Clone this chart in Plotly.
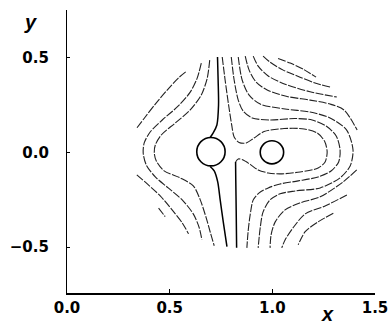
import plotly.graph_objects as go

stem_top_x = [0.733, 0.736, 0.738, 0.730, 0.712, 0.697]
stem_top_y = [0.502, 0.381, 0.249, 0.144, 0.102, 0.078]

stem_bot_x = [0.697, 0.717, 0.734, 0.746, 0.761, 0.779]
stem_bot_y = [-0.075, -0.098, -0.156, -0.251, -0.367, -0.498]

loop_x = [0.756, 0.770, 0.787, 0.802, 0.814, 0.838, 0.873, 0.911, 0.960, 1.057, 1.155,
          1.218, 1.254, 1.267, 1.257, 1.223, 1.135, 1.038, 0.980, 0.931, 0.892, 0.858,
          0.834, 0.821]
loop_y = [0.502, 0.381, 0.249, 0.144, 0.081, 0.052, 0.049, 0.075, 0.109, 0.125, 0.123,
          0.102, 0.059, 0.002, -0.051, -0.083, -0.104, -0.114, -0.109, -0.093, -0.064,
          -0.041, -0.035, -0.051]

vert_x = [0.821, 0.822, 0.824, 0.826]
vert_y = [-0.051, -0.146, -0.304, -0.504]

r1_x = [0.800, 0.814, 0.834, 0.858, 0.902, 0.989, 1.111, 1.194, 1.262, 1.311, 1.330,
        1.323, 1.286, 1.223, 1.126, 1.038, 0.980, 0.936, 0.907, 0.892, 0.882, 0.876]
r1_y = [0.502, 0.381, 0.275, 0.217, 0.181, 0.170, 0.178, 0.170, 0.138, 0.086, 0.012,
        -0.051, -0.099, -0.130, -0.151, -0.167, -0.188, -0.214, -0.251, -0.330, -0.419, -0.504]

r2_x = [0.834, 0.853, 0.887, 0.941, 1.062, 1.184, 1.281, 1.362, 1.393, 1.379, 1.330,
        1.233, 1.111, 1.038, 0.989, 0.955, 0.941, 0.931]
r2_y = [0.502, 0.381, 0.301, 0.254, 0.228, 0.212, 0.181, 0.117, 0.012, -0.072, -0.135,
        -0.188, -0.204, -0.219, -0.251, -0.314, -0.398, -0.504]

r3t_x = [0.868, 0.887, 0.921, 0.975, 1.072, 1.184, 1.281, 1.349, 1.413]
r3t_y = [0.507, 0.433, 0.370, 0.328, 0.294, 0.275, 0.254, 0.223, 0.117]
r3b_x = [1.411, 1.345, 1.233, 1.135, 1.062, 1.014, 0.994, 0.989]
r3b_y = [-0.093, -0.156, -0.235, -0.267, -0.304, -0.367, -0.435, -0.504]

r4t_x = [0.907, 0.931, 0.980, 1.062, 1.184, 1.314]
r4t_y = [0.507, 0.454, 0.402, 0.359, 0.319, 0.291]
r4b_x = [1.363, 1.257, 1.160, 1.101, 1.062, 1.046]
r4b_y = [-0.225, -0.283, -0.325, -0.398, -0.462, -0.504]

r5t_x = [0.955, 0.989, 1.053, 1.135, 1.208, 1.281]
r5t_y = [0.507, 0.475, 0.433, 0.396, 0.365, 0.344]
r5b_x = [1.297, 1.223, 1.160, 1.126]
r5b_y = [-0.321, -0.367, -0.419, -0.488]

r6t_x = [1.028, 1.087, 1.150, 1.213]
r6t_y = [0.494, 0.470, 0.438, 0.396]

la_x = [0.341, 0.381, 0.430, 0.488, 0.542, 0.584]
la_y = [0.129, 0.186, 0.254, 0.328, 0.391, 0.429]

lb_x = [0.340, 0.391, 0.454, 0.512, 0.561, 0.592]
lb_y = [-0.119, -0.167, -0.230, -0.304, -0.372, -0.430]

lc_x = [0.446, 0.478]
lc_y = [-0.295, -0.339]

outer_x = [0.654, 0.634, 0.600, 0.542, 0.464, 0.405, 0.376, 0.371, 0.386, 0.430, 0.493,
           0.561, 0.615, 0.644, 0.657]
outer_y = [0.470, 0.391, 0.317, 0.244, 0.170, 0.107, 0.049, -0.004, -0.067, -0.130,
           -0.188, -0.251, -0.325, -0.398, -0.462]

inner_x = [0.695, 0.683, 0.654, 0.600, 0.527, 0.459, 0.430, 0.425, 0.435, 0.473, 0.551,
           0.615, 0.649, 0.678, 0.697, 0.717]
inner_y = [0.486, 0.391, 0.302, 0.223, 0.154, 0.091, 0.038, -0.004, -0.046, -0.098,
           -0.135, -0.177, -0.251, -0.346, -0.419, -0.493]

# bodies (circles): centre and radii
body_x = [0.701, 0.998]
body_y = [0.003, 0.000]
body_rx = [0.069, 0.057]
body_ry = [0.075, 0.061]

x_ticks = [0.0, 0.5, 1.0, 1.5]
x_ticktext = ["0.0", "0.5", "1.0", "1.5"]
y_ticks = [-0.5, 0.0, 0.5]
y_ticktext = ["\u22120.5", "0.0", "0.5"]

dashed = [(loop_x, loop_y), (r1_x, r1_y), (r2_x, r2_y), (r3t_x, r3t_y), (r3b_x, r3b_y),
          (r4t_x, r4t_y), (r4b_x, r4b_y), (r5t_x, r5t_y), (r5b_x, r5b_y), (r6t_x, r6t_y),
          (la_x, la_y), (lb_x, lb_y), (lc_x, lc_y), (outer_x, outer_y), (inner_x, inner_y)]
solid = [(stem_top_x, stem_top_y), (stem_bot_x, stem_bot_y), (vert_x, vert_y)]

fig = go.Figure()
for xs, ys in dashed:
    fig.add_trace(go.Scatter(x=xs, y=ys, mode="lines", showlegend=False, hoverinfo="skip",
                             line=dict(color="#222222", width=1.1, dash="8px,1.5px",
                                       shape="spline", smoothing=0.8)))
for xs, ys in solid:
    fig.add_trace(go.Scatter(x=xs, y=ys, mode="lines", showlegend=False, hoverinfo="skip",
                             line=dict(color="#000000", width=1.5,
                                       shape="spline", smoothing=0.8)))

for cx, cy, rx, ry in zip(body_x, body_y, body_rx, body_ry):
    fig.add_shape(type="circle", xref="x", yref="y", x0=cx - rx, x1=cx + rx,
                  y0=cy - ry, y1=cy + ry, line=dict(color="black", width=1.6))

tick_font = dict(family="DejaVu Sans", size=15, color="black", weight="bold")
fig.update_layout(
    template="none",
    width=389, height=326,
    margin=dict(l=67, r=14, t=10, b=33, autoexpand=False),
    paper_bgcolor="white", plot_bgcolor="white",
    xaxis=dict(range=[0, 1.5], tickvals=x_ticks, ticktext=x_ticktext, ticks="inside",
               ticklen=4, tickcolor="black", showline=True, linecolor="black", linewidth=1.5,
               showgrid=False, zeroline=False, tickfont=tick_font, automargin=False),
    yaxis=dict(range=[-0.742, 0.75], tickvals=y_ticks, ticktext=y_ticktext, ticks="inside",
               ticklen=3, tickcolor="black", showline=True, linecolor="black", linewidth=1.2,
               showgrid=False, zeroline=False, tickfont=tick_font, ticklabelstandoff=14,
               automargin=False),
    annotations=[
        dict(x=0.847, y=-0.073, xref="paper", yref="paper", text="<b><i>x</i></b>",
             xanchor="center", yanchor="middle",
             showarrow=False, font=dict(family="Liberation Sans", size=20, color="black")),
        dict(x=-0.117, y=0.958, xref="paper", yref="paper", text="<b><i>y</i></b>",
             xanchor="center", yanchor="middle",
             showarrow=False, font=dict(family="Liberation Sans", size=20, color="black")),
    ],
)
fig.write_html("out.html", config={"displayModeBar": False},
               post_script="document.body.style.margin='0px';document.body.style.overflow='hidden';")
